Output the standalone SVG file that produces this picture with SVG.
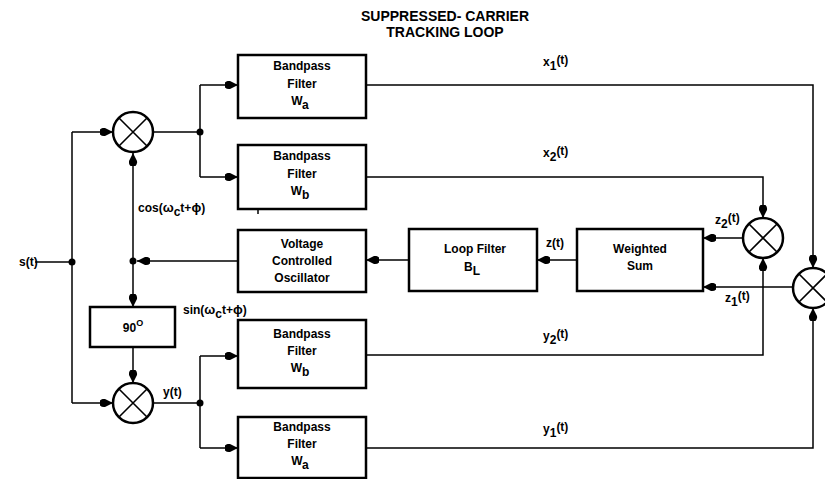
<svg xmlns="http://www.w3.org/2000/svg" width="825" height="479" viewBox="0 0 825 479">
<defs>
<marker id="ah" viewBox="0 0 13 9" refX="13" refY="4.5" markerWidth="13" markerHeight="9" markerUnits="userSpaceOnUse" orient="auto">
<path d="M0,2 Q2,0 5,0.5 L13,4.5 L5,8.5 Q2,9 0,7 Z" fill="#000"/>
</marker>
</defs>
<style>
text{font-family:"Liberation Sans",Arial,sans-serif;font-weight:bold;font-size:12px;fill:#000}
.t{text-anchor:middle}
.box{fill:#fff;stroke:#000;stroke-width:2.5}
.mix{fill:#fff;stroke:#000;stroke-width:2.5}
.x{stroke:#000;stroke-width:1.6}
.w{fill:none;stroke:#000;stroke-width:1.5}
.a{marker-end:url(#ah)}
.dot{fill:#000}
.title{font-size:14px;text-anchor:middle}
.g{font-size:13px}
</style>
<rect width="825" height="479" fill="#fff"/>
<g id="title">
<text class="title" x="445" y="21">SUPPRESSED- CARRIER</text>
<text class="title" x="445" y="37">TRACKING LOOP</text>
</g>
<g id="connectors">
<path class="w" d="M35,262 H72"/>
<path class="w" d="M72,132 V403"/>
<path class="w a" d="M72,132 H113"/>
<path class="w a" d="M72,403 H113"/>
<path class="w" d="M153,132 H200 M200,85 V177"/>
<path class="w a" d="M200,85 H238"/>
<path class="w a" d="M200,177 H238"/>
<path class="w a" d="M238,261 H137"/>
<path class="w a" d="M133,261 V153"/>
<path class="w a" d="M133,261 V307"/>
<path class="w a" d="M133,347 V383"/>
<path class="w" d="M153,403 H200 M200,356 V448"/>
<path class="w a" d="M200,356 H238"/>
<path class="w a" d="M200,448 H238"/>
<path class="w a" d="M366,85 H813 V268"/>
<path class="w a" d="M366,177 H763 V218"/>
<path class="w a" d="M409,260 H366"/>
<path class="w a" d="M577,260 H537"/>
<path class="w a" d="M743,238 H703"/>
<path class="w a" d="M793,287 H703"/>
<path class="w a" d="M366,355 H763 V258"/>
<path class="w a" d="M366,448 H813 V308"/>
<path class="w" d="M258,209 V214"/>
<circle class="dot" cx="72" cy="262" r="3.5"/>
<circle class="dot" cx="200" cy="132" r="3.5"/>
<circle class="dot" cx="133" cy="261" r="3.5"/>
<circle class="dot" cx="200" cy="403" r="3.5"/>
</g>
<g id="labels">
<text x="19" y="266">s(t)</text>
<text x="138" y="212">cos(<tspan class="g">ω</tspan><tspan dy="4">c</tspan><tspan dy="-4">t+</tspan><tspan class="g">ϕ</tspan>)</text>
<text x="183" y="314">sin(<tspan class="g">ω</tspan><tspan dy="4">c</tspan><tspan dy="-4">t+</tspan><tspan class="g">ϕ</tspan>)</text>
<text x="163" y="396">y(t)</text>
<text x="543" y="66">x<tspan dy="4">1</tspan><tspan dy="-6">(t)</tspan></text>
<text x="543" y="157">x<tspan dy="4">2</tspan><tspan dy="-6">(t)</tspan></text>
<text x="543" y="340">y<tspan dy="4">2</tspan><tspan dy="-6">(t)</tspan></text>
<text x="543" y="433">y<tspan dy="4">1</tspan><tspan dy="-6">(t)</tspan></text>
<text x="546" y="247">z(t)</text>
<text x="715" y="224">z<tspan dy="4">2</tspan><tspan dy="-6">(t)</tspan></text>
<text x="725" y="302">z<tspan dy="4">1</tspan><tspan dy="-6">(t)</tspan></text>
</g>
<g id="mixer1">
<circle class="mix" cx="133" cy="132" r="20"/>
<path class="x" d="M119,118 L147,146 M147,118 L119,146"/>
</g>
<g id="mixer2">
<circle class="mix" cx="133" cy="403" r="20"/>
<path class="x" d="M119,389 L147,417 M147,389 L119,417"/>
</g>
<g id="mixer3">
<circle class="mix" cx="763" cy="238" r="20"/>
<path class="x" d="M749,224 L777,252 M777,224 L749,252"/>
</g>
<g id="mixer4">
<circle class="mix" cx="813" cy="288" r="20"/>
<path class="x" d="M799,274 L827,302 M827,274 L799,302"/>
</g>
<g id="bpf-wa-top">
<rect class="box" x="238" y="55" width="128" height="63"/>
<text class="t" x="302" y="70">Bandpass</text>
<text class="t" x="302" y="88">Filter</text>
<text class="t" x="300" y="105">W<tspan dy="4">a</tspan></text>
</g>
<g id="bpf-wb-top">
<rect class="box" x="238" y="145" width="128" height="64"/>
<text class="t" x="302" y="160">Bandpass</text>
<text class="t" x="302" y="178">Filter</text>
<text class="t" x="300" y="195">W<tspan dy="4">b</tspan></text>
</g>
<g id="vco">
<rect class="box" x="238" y="230" width="128" height="62"/>
<text class="t" x="302" y="248">Voltage</text>
<text class="t" x="302" y="265">Controlled</text>
<text class="t" x="302" y="282">Oscillator</text>
</g>
<g id="phase90">
<rect class="box" x="90" y="307" width="85" height="40"/>
<text class="t" x="133" y="332">90<tspan dy="-6" font-size="9">O</tspan></text>
</g>
<g id="loop-filter">
<rect class="box" x="409" y="229" width="128" height="62"/>
<text class="t" x="475" y="253">Loop Filter</text>
<text class="t" x="472" y="271">B<tspan dy="4">L</tspan></text>
</g>
<g id="weighted-sum">
<rect class="box" x="577" y="229" width="126" height="62"/>
<text class="t" x="640" y="253">Weighted</text>
<text class="t" x="640" y="270">Sum</text>
</g>
<g id="bpf-wb-bottom">
<rect class="box" x="238" y="320" width="128" height="68"/>
<text class="t" x="302" y="338">Bandpass</text>
<text class="t" x="302" y="355">Filter</text>
<text class="t" x="300" y="372">W<tspan dy="4">b</tspan></text>
</g>
<g id="bpf-wa-bottom">
<rect class="box" x="238" y="417" width="128" height="61"/>
<text class="t" x="302" y="431">Bandpass</text>
<text class="t" x="302" y="448">Filter</text>
<text class="t" x="300" y="465">W<tspan dy="4">a</tspan></text>
</g>
</svg>
